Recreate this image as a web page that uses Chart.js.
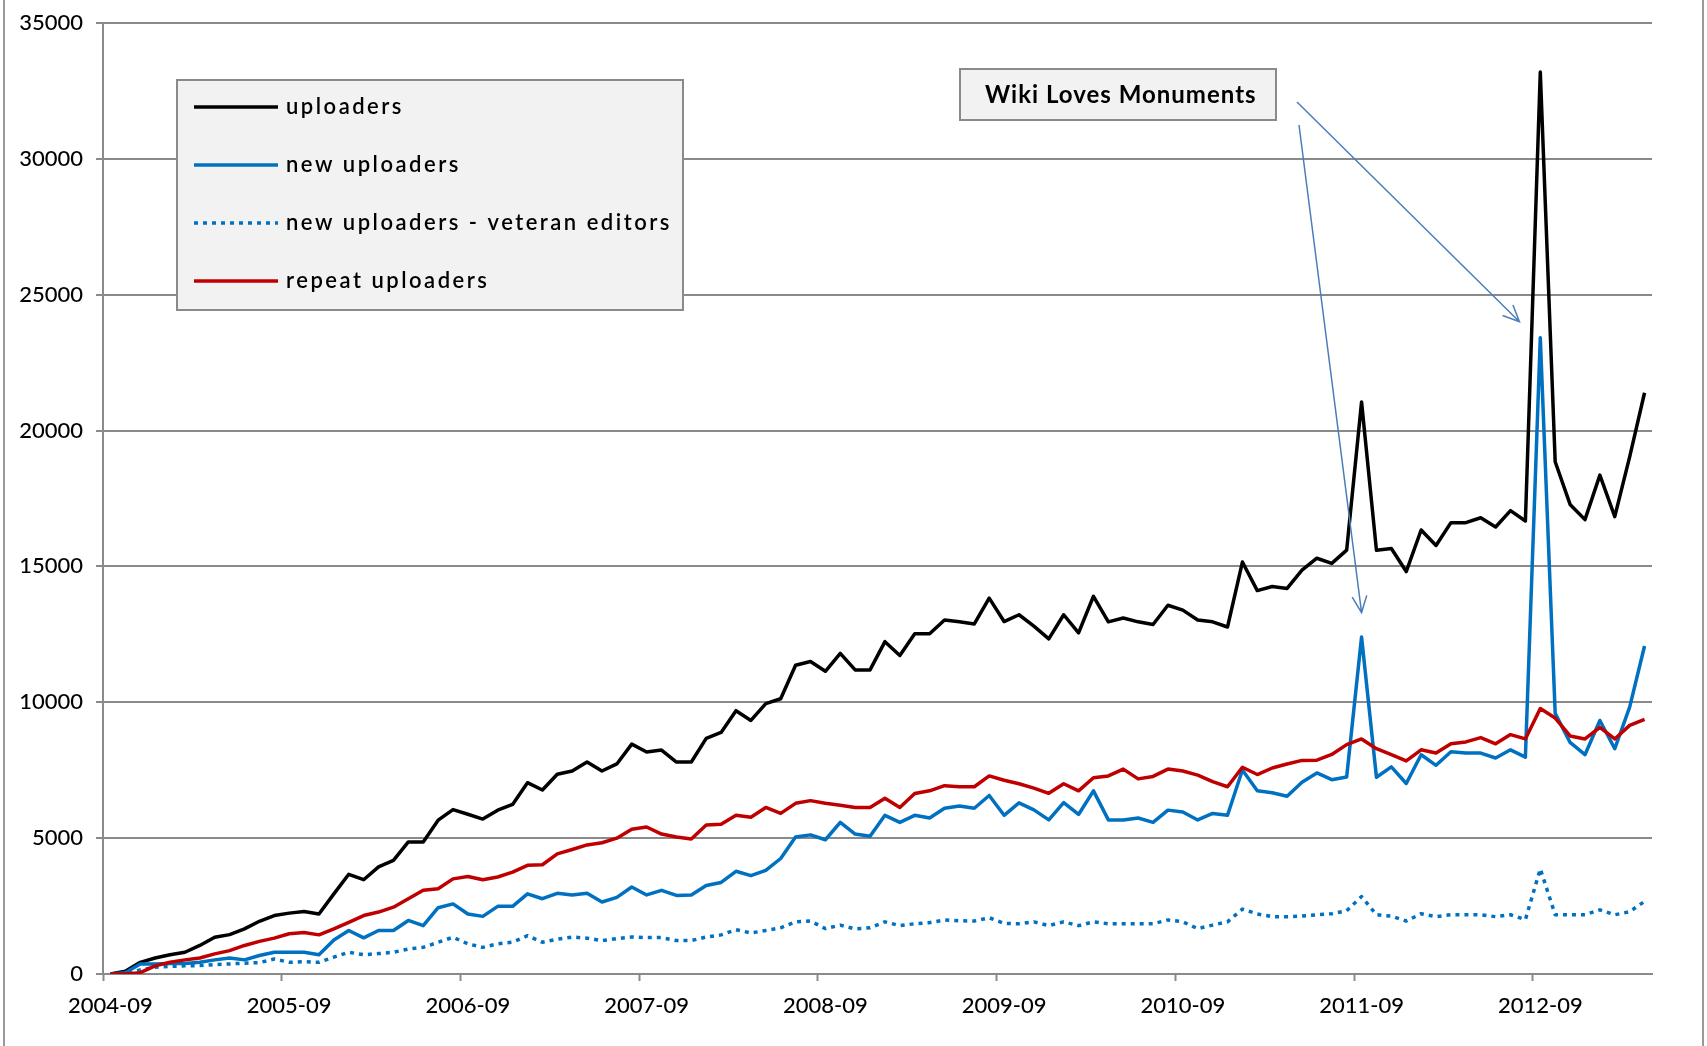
<!DOCTYPE html>
<html>
<head>
<meta charset="utf-8">
<title>Commons uploaders per month</title>
<script src="https://cdn.jsdelivr.net/npm/chart.js@4"></script>
<style>
  html, body { margin: 0; padding: 0; background: #fff; }
  #wrap { width: 1707px; height: 1046px; }
</style>
</head>
<body>
<div id="wrap"><canvas id="uploads" width="1707" height="1046"></canvas></div>
<script>
// monthly series, 2004-09 .. 2013-04
const firstYear = 2004, firstMonth = 9, monthCount = 104;
const months = [];
for (let k = 0; k < monthCount; k++) {
  const m = firstMonth - 1 + k;
  months.push((firstYear + Math.floor(m / 12)) + '-' + String(m % 12 + 1).padStart(2, '0'));
}

const uploaders = [
  0, 100, 430, 590, 710, 800, 1050, 1350, 1450, 1660, 1940, 2150,
  2240, 2300, 2210, 2950, 3670, 3470, 3940, 4180, 4860, 4860, 5660, 6050,
  5880, 5700, 6030, 6240, 7040, 6770, 7350, 7470, 7800, 7470, 7730, 8460,
  8170, 8240, 7800, 7800, 8670, 8890, 9690, 9330, 9950, 10130, 11360, 11500,
  11140, 11800, 11190, 11190, 12230, 11720, 12520, 12520, 13030, 12960, 12880, 13830,
  12970, 13220, 12800, 12330, 13220, 12550, 13900, 12960, 13100, 12960, 12860, 13570,
  13390, 13030, 12960, 12770, 15160, 14110, 14260, 14190, 14860, 15300, 15110, 15600,
  21050, 15590, 15660, 14810, 16340, 15770, 16610, 16610, 16790, 16450, 17050, 16670,
  33190, 18850, 17280, 16720, 18360, 16830, 19030, 21390
];
const newUploaders = [
  0, 50, 370, 370, 390, 390, 430, 520, 590, 520, 680, 800,
  800, 800, 710, 1250, 1600, 1330, 1600, 1600, 1970, 1780, 2440, 2580,
  2210, 2120, 2490, 2490, 2950, 2770, 2970, 2910, 2970, 2650, 2820, 3200,
  2910, 3080, 2890, 2910, 3260, 3370, 3780, 3620, 3810, 4250, 5040, 5120,
  4940, 5580, 5150, 5070, 5840, 5580, 5840, 5740, 6100, 6180, 6100, 6570,
  5840, 6300, 6040, 5670, 6310, 5870, 6740, 5670, 5670, 5740, 5580, 6030,
  5960, 5670, 5910, 5840, 7510, 6740, 6670, 6540, 7060, 7400, 7150, 7250,
  12400, 7240, 7620, 7010, 8070, 7680, 8180, 8130, 8130, 7950, 8250, 7980,
  23410, 9590, 8520, 8070, 9330, 8290, 9820, 12070
];
const newVeterans = [
  0, 0, 150, 250, 280, 300, 310, 350, 370, 400, 420, 550,
  430, 450, 430, 620, 800, 710, 750, 800, 920, 980, 1170, 1350,
  1110, 980, 1110, 1170, 1410, 1170, 1280, 1360, 1320, 1230, 1300, 1360,
  1340, 1340, 1230, 1230, 1360, 1440, 1630, 1510, 1600, 1700, 1920, 1950,
  1670, 1800, 1660, 1700, 1920, 1780, 1850, 1890, 1990, 1960, 1950, 2070,
  1860, 1850, 1920, 1780, 1920, 1780, 1920, 1850, 1850, 1850, 1850, 1990,
  1920, 1670, 1800, 1920, 2390, 2210, 2110, 2110, 2130, 2180, 2220, 2330,
  2850, 2180, 2130, 1950, 2220, 2110, 2180, 2180, 2180, 2110, 2180, 2000,
  3870, 2180, 2180, 2180, 2360, 2180, 2290, 2670
];
const repeatUploaders = [
  0, 0, 50, 300, 430, 520, 590, 740, 860, 1050, 1200, 1320,
  1480, 1530, 1440, 1660, 1900, 2150, 2280, 2460, 2770, 3080, 3140, 3500,
  3590, 3470, 3570, 3750, 4000, 4020, 4420, 4580, 4750, 4830, 5000, 5330,
  5410, 5150, 5040, 4970, 5480, 5510, 5840, 5770, 6130, 5910, 6280, 6380,
  6280, 6210, 6130, 6130, 6470, 6130, 6640, 6740, 6930, 6890, 6890, 7290,
  7130, 7000, 6840, 6650, 7000, 6740, 7220, 7290, 7540, 7180, 7270, 7540,
  7470, 7320, 7080, 6890, 7610, 7340, 7580, 7730, 7860, 7870, 8080, 8440,
  8650, 8290, 8070, 7840, 8250, 8130, 8470, 8540, 8700, 8470, 8810, 8650,
  9770, 9420, 8760, 8650, 9080, 8650, 9150, 9370
];

const yTicks = [0, 5000, 10000, 15000, 20000, 25000, 30000, 35000];
const labelEvery = 12;

// callout: both Wiki Loves Monuments peaks (month index, value)
const calloutText = 'Wiki Loves Monuments';
const calloutTargets = [[94.6, 24000], [84, 13300]];

const grey = '#8a8a8a';
const blue = '#0070c0';
const fontFamily = 'Lato, "Open Sans", sans-serif';

function arrow(ctx, x1, y1, x2, y2) {
  const a = Math.atan2(y2 - y1, x2 - x1), len = 18, spread = 0.42;
  ctx.beginPath();
  ctx.moveTo(x1, y1);
  ctx.lineTo(x2, y2);
  ctx.moveTo(x2 - len * Math.cos(a - spread), y2 - len * Math.sin(a - spread));
  ctx.lineTo(x2, y2);
  ctx.lineTo(x2 - len * Math.cos(a + spread), y2 - len * Math.sin(a + spread));
  ctx.stroke();
}

const framePlugin = {
  id: 'frame',
  beforeDraw(chart) {
    const ctx = chart.ctx;
    ctx.save();
    ctx.fillStyle = '#fff';
    ctx.fillRect(0, 0, chart.width, chart.height);
    ctx.strokeStyle = '#999';
    ctx.lineWidth = 2;
    ctx.beginPath();
    ctx.moveTo(4, 0); ctx.lineTo(4, chart.height);
    ctx.moveTo(chart.width - 4, 0); ctx.lineTo(chart.width - 4, chart.height);
    ctx.stroke();
    ctx.restore();
  }
};

const boxLegendPlugin = {
  id: 'boxLegend',
  afterDraw(chart) {
    const ctx = chart.ctx;
    const bx = 177, by = 80, bw = 506, bh = 230;
    ctx.save();
    ctx.fillStyle = '#f2f2f2';
    ctx.fillRect(bx, by, bw, bh);
    ctx.strokeStyle = grey;
    ctx.lineWidth = 2;
    ctx.strokeRect(bx, by, bw, bh);
    ctx.font = '600 22px ' + fontFamily;
    ctx.letterSpacing = '2.5px';
    ctx.textBaseline = 'middle';
    chart.data.datasets.forEach((ds, k) => {
      const y = by + 27 + k * 58;
      ctx.strokeStyle = ds.borderColor;
      ctx.lineWidth = 3.5;
      ctx.setLineDash(ds.borderDash || []);
      ctx.beginPath();
      ctx.moveTo(bx + 17, y);
      ctx.lineTo(bx + 101, y);
      ctx.stroke();
      ctx.setLineDash([]);
      ctx.fillStyle = '#000';
      ctx.fillText(ds.label, bx + 109, y);
    });
    ctx.restore();
  }
};

const calloutPlugin = {
  id: 'callout',
  afterDraw(chart) {
    const ctx = chart.ctx, xs = chart.scales.x, ys = chart.scales.y;
    ctx.save();
    ctx.strokeStyle = '#4a7ebb';
    ctx.lineWidth = 1.5;
    const starts = [[1297, 102], [1299, 125]];
    calloutTargets.forEach((t, k) => {
      arrow(ctx, starts[k][0], starts[k][1], xs.getPixelForValue(t[0]), ys.getPixelForValue(t[1]));
    });
    const bx = 960, by = 69, bw = 316, bh = 51;
    ctx.fillStyle = '#f2f2f2';
    ctx.fillRect(bx, by, bw, bh);
    ctx.strokeStyle = grey;
    ctx.lineWidth = 2;
    ctx.strokeRect(bx, by, bw, bh);
    ctx.fillStyle = '#000';
    ctx.font = 'bold 24px ' + fontFamily;
    ctx.letterSpacing = '1px';
    ctx.textBaseline = 'middle';
    ctx.fillText(calloutText, bx + 25, by + bh / 2 + 1);
    ctx.restore();
  }
};

const line = (label, data, color, order, dash) => ({
  label, data, order,
  borderColor: color,
  backgroundColor: color,
  borderWidth: 3.5,
  borderDash: dash,
  borderJoinStyle: 'round',
  pointRadius: 0,
  tension: 0,
  fill: false
});

new Chart(document.getElementById('uploads'), {
  type: 'line',
  data: {
    labels: months,
    datasets: [
      line('uploaders', uploaders, '#000000', 4),
      line('new uploaders', newUploaders, blue, 3),
      line('new uploaders - veteran editors', newVeterans, blue, 2, [4, 5]),
      line('repeat uploaders', repeatUploaders, '#c00000', 1)
    ]
  },
  options: {
    responsive: false,
    animation: false,
    events: [],
    layout: { padding: { top: 22, right: 55, left: 0, bottom: 0 } },
    plugins: { legend: { display: false }, tooltip: { enabled: false } },
    scales: {
      x: {
        offset: true,
        grid: {
          offset: true,
          drawOnChartArea: false,
          tickLength: 7,
          tickWidth: 2,
          tickColor: c => (c.index % labelEvery === 0 ? grey : 'rgba(0,0,0,0)')
        },
        border: { color: grey, width: 2 },
        ticks: {
          autoSkip: false,
          maxRotation: 0,
          padding: 12,
          color: '#000',
          font: { family: fontFamily, size: 22, weight: '500' },
          callback: (v, i) => (i % labelEvery === 0 ? months[i] : '')
        },
        afterFit: s => { s.height = 72; }
      },
      y: {
        min: yTicks[0],
        max: yTicks[yTicks.length - 1],
        afterBuildTicks: s => { s.ticks = yTicks.map(v => ({ value: v })); },
        ticks: {
          padding: 13,
          color: '#000',
          font: { family: fontFamily, size: 22, weight: '500', lineHeight: 0.9 },
          callback: v => String(v)
        },
        grid: { color: grey, lineWidth: 2, tickLength: 7, tickColor: grey },
        border: { color: grey, width: 2 },
        afterFit: s => { s.width = 103; }
      }
    }
  },
  plugins: [framePlugin, boxLegendPlugin, calloutPlugin]
});
</script>
</body>
</html>
